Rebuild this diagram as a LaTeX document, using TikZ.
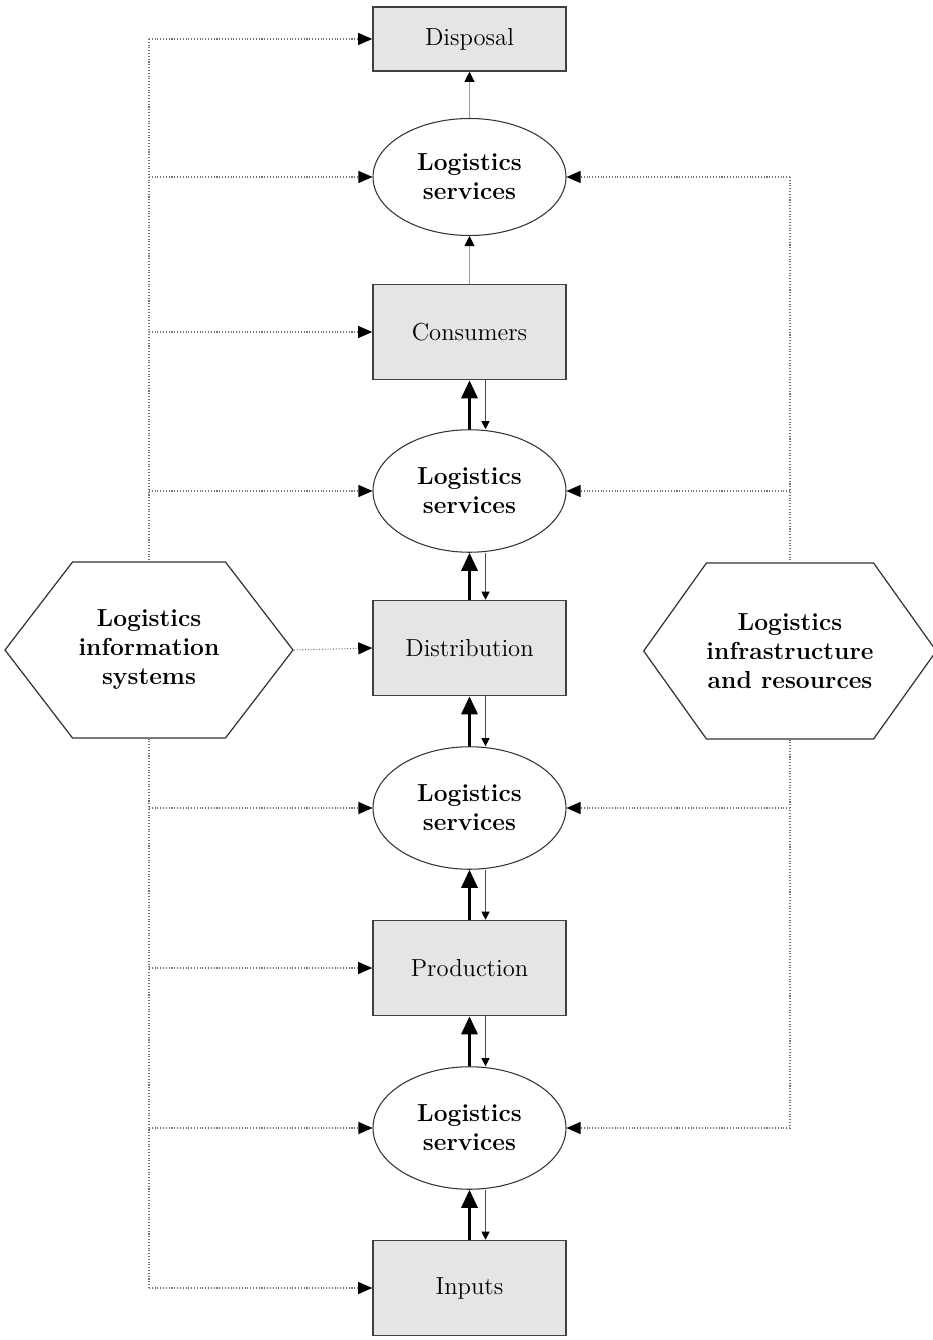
\documentclass[tikz,border=0pt]{standalone}
\usepackage{amsmath}
\usepackage{amssymb}
\usetikzlibrary{shapes, arrows.meta, positioning, calc}

\tikzset{
  boite/.style={draw=black!75, line width=0.9pt, fill=black!10, minimum width=3.86cm,
    minimum height=1.9cm, font=\fontsize{14}{16.5}\selectfont},
  service/.style={ellipse, draw=black!80, line width=0.6pt, fill=white, minimum width=3.86cm,
    minimum height=2.45cm, inner sep=0pt, align=center, font=\fontsize{14}{16.5}\selectfont\bfseries},
  hexa/.style={signal, signal to=west and east, signal pointer angle=105, draw=black!80,
    line width=0.7pt, fill=white, minimum width=5.76cm, minimum height=3.52cm, inner sep=0pt,
    align=center, font=\fontsize{14}{16.5}\selectfont\bfseries},
  lien/.style={densely dotted, black!55, line width=0.6pt},
  info/.style={lien, -{Triangle[length=0.28cm, width=0.24cm, color=black]}},
  flux/.style={black, line width=1.8pt, -{Triangle[length=0.36cm, width=0.32cm]}},
  retour/.style={black!70, line width=0.4pt, -{Triangle[length=0.16cm, width=0.16cm, color=black]}},
  simple/.style={black!40, line width=0.5pt, -{Triangle[length=0.2cm, width=0.2cm, color=black]}}
}

\begin{document}
\begin{tikzpicture}
  \useasboundingbox (0,0) rectangle (18.66,-26.8);
  % Chaîne centrale
  \node[boite, minimum height=1.28cm] (disp) at (9.39,-0.78) {Disposal};
  \node[service, minimum height=2.34cm] (ls1) at (9.39,-3.54) {Logistics\\services};
  \node[boite] (cons) at (9.39,-6.64) {Consumers};
  \node[service] (ls2) at (9.39,-9.82) {Logistics\\services};
  \node[boite] (dist) at (9.39,-12.96) {Distribution};
  \node[service] (ls3) at (9.39,-16.16) {Logistics\\services};
  \node[boite] (prod) at (9.39,-19.36) {Production};
  \node[service] (ls4) at (9.39,-22.56) {Logistics\\services};
  \node[boite] (inp) at (9.39,-25.76) {Inputs};

  % Hexagones latéraux
  \node[hexa] (lis) at (2.98,-13.0) {Logistics\\information\\systems};
  \node[hexa, signal pointer angle=109] (ris) at (15.8,-13.02) {Logistics\\infrastructure\\and resources};

  % Flèches verticales simples en haut
  \draw[simple] (ls1.north) -- (disp.south);
  \draw[simple] (cons.north) -- (ls1.south);

  % Flux montants et retours
  \foreach \bas/\haut in {ls2/cons, dist/ls2, ls3/dist, prod/ls3, ls4/prod, inp/ls4} {
    \draw[flux] (\bas.north) -- (\haut.south);
    \draw[retour] ($(\haut.south)+(0.32,0)$) -- ($(\bas.north)+(0.32,0)$);
  }

  % Systèmes d'information (gauche)
  \draw[lien] (lis.north |- disp.west) -- (lis.north);
  \draw[lien] (lis.south) -- (lis.south |- inp.west);
  \foreach \n in {disp, ls1, cons, ls2, ls3, prod, ls4, inp}
    \draw[info] (lis.north |- \n.west) -- (\n.west);
  \draw[info] (lis.east) -- (dist.west);

  % Infrastructure et ressources (droite)
  \draw[lien] (ris.north |- ls1.east) -- (ris.north);
  \draw[lien] (ris.south) -- (ris.south |- ls4.east);
  \foreach \n in {ls1, ls2, ls3, ls4}
    \draw[info] (ris.north |- \n.east) -- (\n.east);
\end{tikzpicture}
\end{document}
